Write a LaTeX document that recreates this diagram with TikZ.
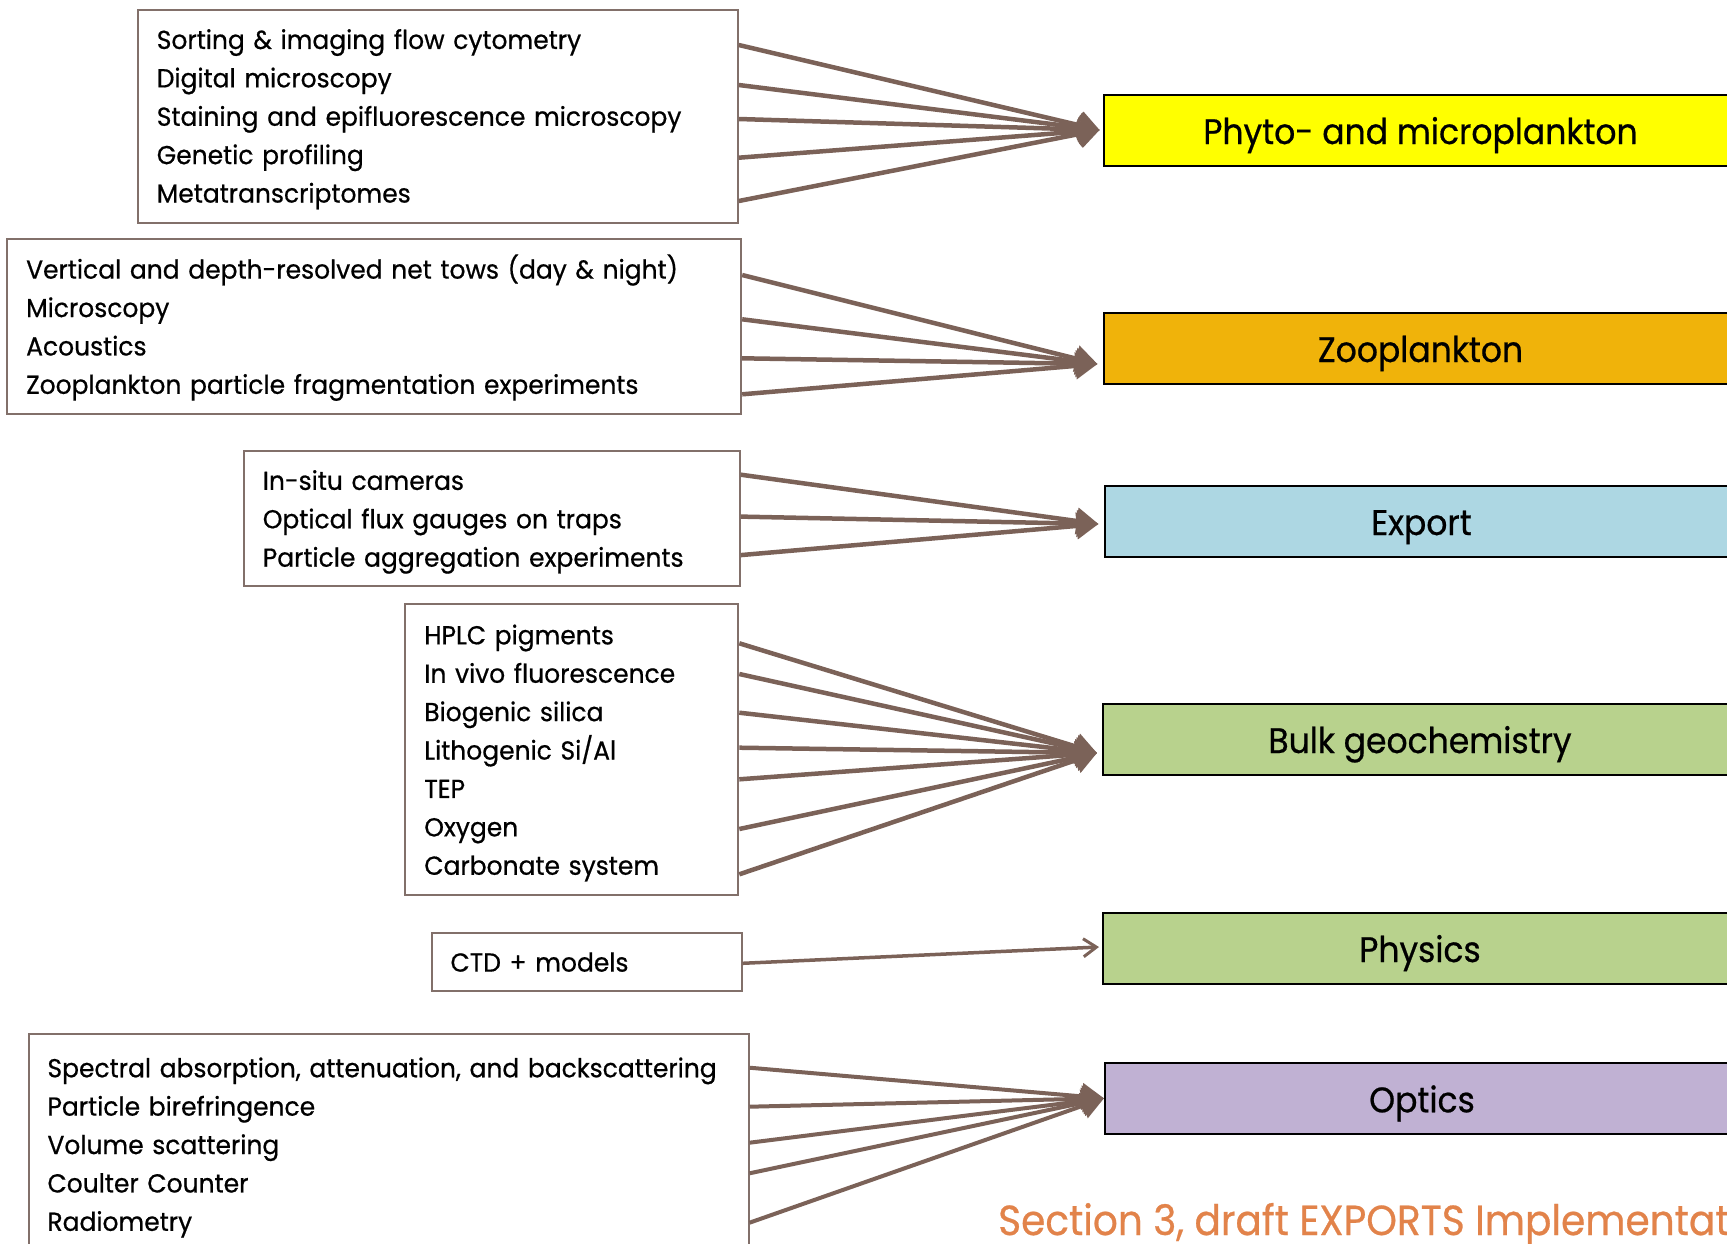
\documentclass[tikz,border=0pt]{standalone}
\usepackage{fontspec}
\setmainfont{Poppins}[FakeStretch=0.96, FakeBold=0.6]
\newfontfamily\labelfont{Poppins}[FakeStretch=0.93, FakeBold=0.6]
\usetikzlibrary{arrows.meta,calc}

\definecolor{arrowbrown}{HTML}{7B6258}
\definecolor{boxbrown}{HTML}{82706A}
\definecolor{phytoyellow}{HTML}{FFFF00}
\definecolor{zooorange}{HTML}{F0B30A}
\definecolor{exportblue}{HTML}{ADD7E3}
\definecolor{bulkgreen}{HTML}{B8D28D}
\definecolor{opticslilac}{HTML}{C0B1D3}
\definecolor{footerorange}{HTML}{E2834A}

% struts fixing the height of the first and the depth of the last line
\newcommand\firstlinestrut{\rule{0pt}{27pt}}
\newcommand\lastlinestrut{\rule[-7.5pt]{0pt}{7.5pt}}

\begin{document}
\begin{tikzpicture}[x=1pt,y=-1pt,
  srcbox/.style={draw=boxbrown, line width=2pt, rectangle, anchor=north west,
    align=left, inner xsep=19pt, inner ysep=0pt,
    font=\fontsize{26}{38.4}\selectfont},
  tgt/.style={draw=black, line width=2pt, rectangle, minimum width=634pt,
    minimum height=71pt, anchor=west, inner sep=0pt,
    text height=33pt, text depth=5pt,
    font=\labelfont\fontsize{35.5}{40}\selectfont},
  conn/.style={draw=arrowbrown, line width=4.5pt},
  barbtip/.style={-{Straight Barb[length=18pt,width=26pt,line width=3pt]}},
  smallbarb/.style={-{Straight Barb[length=13pt,width=18pt,line width=3pt]}},
  tritip/.style={-{Triangle[length=22pt,width=26pt]}}
]
\useasboundingbox (0,0) rectangle (1727,1243);
\clip (0,0) rectangle (1727,1243);
\fill[white] (0,0) rectangle (1727,1243);

% measurement groups
\node[srcbox, text width=562pt, minimum height=213pt] (s1) at (136.8,8.5)
  {\firstlinestrut Sorting \& imaging flow cytometry\\Digital microscopy\\Staining and epifluorescence microscopy\\Genetic profiling\\Metatranscriptomes\lastlinestrut};
\node[srcbox, text width=696pt, minimum height=175pt] (s2) at (6.2,238)
  {\firstlinestrut Vertical and depth-resolved net tows (day \& night)\\Microscopy\\Acoustics\\Zooplankton particle fragmentation experiments\lastlinestrut};
\node[srcbox, text width=458pt, minimum height=135.5pt] (s3) at (242.8,449.8)
  {\firstlinestrut In-situ cameras\\Optical flux gauges on traps\\Particle aggregation experiments\lastlinestrut};
\node[srcbox, text width=295pt, minimum height=291pt] (s4) at (404.3,603.3)
  {\firstlinestrut HPLC pigments\\In vivo fluorescence\\Biogenic silica\\Lithogenic Si/Al\\TEP\\Oxygen\\Carbonate system\lastlinestrut};
\node[srcbox, text width=272pt, minimum height=58.3pt] (s5) at (430.5,931.7)
  {\firstlinestrut CTD + models\lastlinestrut};
\node[srcbox, text width=682pt, minimum height=220pt] (s6) at (27.5,1033.3)
  {\firstlinestrut Spectral absorption, attenuation, and backscattering\\Particle birefringence\\Volume scattering\\Coulter Counter\\Radiometry\lastlinestrut};

% target categories
\node[tgt, fill=phytoyellow] (phyto)   at (1102.5,130)    {Phyto- and microplankton};
\node[tgt, fill=zooorange]   (zoo)     at (1102.5,348)    {Zooplankton};
\node[tgt, fill=exportblue]  (export)  at (1103.5,521)    {Export};
\node[tgt, fill=bulkgreen]   (bulk)    at (1102,739)      {Bulk geochemistry};
\node[tgt, fill=bulkgreen]   (physics) at (1102,948)      {Physics};
\node[tgt, fill=opticslilac] (optics)  at (1104,1098.3)   {Optics};

% arrow tips
\coordinate (t1) at ($(phyto.west)+(-3,0)$);
\coordinate (t2) at ($(zoo.west)+(-5,16)$);
\coordinate (t3) at ($(export.west)+(-5,3)$);
\coordinate (t4) at ($(bulk.west)+(-5,14)$);
\coordinate (t5) at ($(physics.west)+(-3,-1)$);
\coordinate (t6) at ($(optics.west)+(0,0)$);

% connectors
\foreach \y [count=\i] in {45,85,119,157.7,201}{
  \coordinate (s1o\i) at (s1.east |- 0,\y);
  \draw[conn, barbtip] (s1o\i) -- (t1);
}
\foreach \y [count=\i] in {275,319.3,358.3,394.3}{
  \coordinate (s2o\i) at (s2.east |- 0,\y);
  \draw[conn, tritip] (s2o\i) -- (t2);
}
\foreach \y [count=\i] in {474.7,516.6,555.1}{
  \coordinate (s3o\i) at (s3.east |- 0,\y);
  \draw[conn, tritip] (s3o\i) -- (t3);
}
\foreach \y [count=\i] in {643.3,674,712.7,747.7,779.3,829,874.3}{
  \coordinate (s4o\i) at (s4.east |- 0,\y);
  \draw[conn, tritip] (s4o\i) -- (t4);
}
\coordinate (s5o1) at (s5.east |- 0,963.3);
\draw[conn, line width=3.5pt, smallbarb] (s5o1) -- (t5);
\foreach \y [count=\i] in {1067.7,1106.7,1142.7,1173.3,1222.7}{
  \coordinate (s6o\i) at (s6.east |- 0,\y);
  \draw[conn, line width=4pt, tritip] (s6o\i) -- (t6);
}

% footer
\node[anchor=base west, inner sep=0pt, text=footerorange,
  font=\labelfont\fontsize{42}{46}\selectfont] (footer) at (998,1235)
  {Section 3, draft EXPORTS Implementation};
\end{tikzpicture}
\end{document}
